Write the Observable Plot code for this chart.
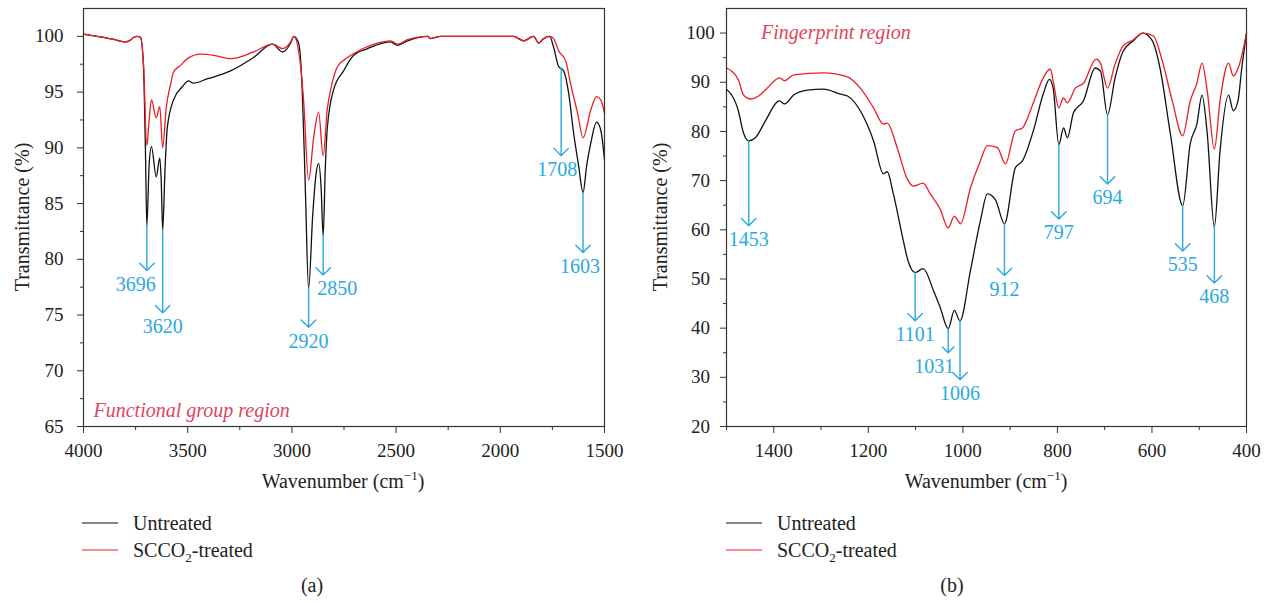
<!DOCTYPE html>
<html>
<head>
<meta charset="utf-8">
<script src="https://cdn.jsdelivr.net/npm/d3@7"></script>
<script src="https://cdn.jsdelivr.net/npm/@observablehq/plot@0.6"></script>
<style>
  html, body { margin: 0; padding: 0; background: #fff; }
  #page { position: relative; width: 1269px; height: 603px; overflow: hidden; background: #fff;
          font-family: "Liberation Serif", serif; color: #222; }
  .panel { position: absolute; top: 0; }
  .ylab { position: absolute; font-size: 20px; white-space: nowrap; transform: translate(-50%, -50%) rotate(-90deg); }
  .xlab { position: absolute; font-size: 20px; white-space: nowrap; transform: translate(-50%, -50%); }
  .xlab sup { font-size: 13px; vertical-align: 8px; line-height: 0; }
  .leg { position: absolute; font-size: 20px; white-space: nowrap; display: flex; align-items: center; transform: translateY(-50%); }
  .leg .sw { width: 36px; height: 0; border-top: 1.6px solid; margin-right: 15px; }
  .leg sub { font-size: 13px; vertical-align: -5px; line-height: 0; }
  .cap { position: absolute; font-size: 20px; transform: translate(-50%, -50%); }
</style>
</head>
<body>
<div id="page"></div>
<script>
// ---------- Data ----------
// Panel (a): functional group region, [wavenumber, transmittance %]
const aUntreated = [[4000,100.2],[3950,100.05],[3900,99.9],[3860,99.75],[3830,99.6],[3805,99.5],[3780,99.6],[3760,99.9],[3741,100.0],[3726,99.9],[3712,97.2],[3703,90],[3696,83.0],[3685,88.5],[3674,90.1],[3651,87.4],[3634,89.1],[3627,87],[3620,82.6],[3609,88],[3598,91.8],[3568,94.3],[3525,95.5],[3496,96.0],[3474,95.8],[3405,96.2],[3294,96.9],[3184,98.1],[3093,99.3],[3045,98.6],[3006,99.4],[2991,100.0],[2968,99.4],[2950,95],[2935,86],[2920,77.4],[2900,84],[2885,87.5],[2872,88.6],[2860,86.5],[2850,82.1],[2840,88],[2830,91.8],[2800,95.2],[2752,96.9],[2704,98.3],[2637,98.9],[2565,99.4],[2526,99.5],[2493,99.2],[2445,99.6],[2349,100],[2334,99.8],[2286,100],[2100,100],[1936,100],[1888,99.6],[1840,100],[1816,99.4],[1792,99.8],[1763,100],[1744,99.0],[1720,97.3],[1696,96.9],[1672,94.9],[1648,91.3],[1625,88.5],[1603,86.0],[1585,88.5],[1566,90.4],[1538,92.3],[1518,91.6],[1500,88.9]];
const aTreated = [[4000,100.2],[3950,100.05],[3900,99.9],[3860,99.75],[3830,99.6],[3805,99.5],[3780,99.6],[3760,99.9],[3741,100.0],[3726,99.9],[3712,97.5],[3696,90.2],[3685,92.5],[3674,94.3],[3651,92.7],[3634,93.7],[3620,90.0],[3603,93.6],[3582,95.7],[3568,96.8],[3534,97.4],[3501,98.0],[3438,98.4],[3376,98.3],[3294,98.0],[3184,98.6],[3093,99.3],[3045,98.9],[3006,99.5],[2991,100],[2958,97.3],[2944,94.3],[2920,87.1],[2895,91],[2872,93.2],[2850,89.3],[2830,93.5],[2814,95.2],[2781,97.3],[2733,98.1],[2670,98.8],[2565,99.5],[2526,99.6],[2493,99.3],[2445,99.7],[2349,100],[2334,99.8],[2286,100],[2100,100],[1936,100],[1888,99.6],[1840,100],[1816,99.4],[1792,99.8],[1763,100],[1744,99.8],[1720,98.7],[1686,97.8],[1662,95.7],[1629,93.1],[1603,90.9],[1566,93.4],[1538,94.6],[1518,94.3],[1500,93.1]];
const aPeaks    = [3696, 3620, 2920, 2850, 1708, 1603];
const aPeakFrom = [83.0, 82.6, 77.4, 82.1, 97.2, 86.0];
const aPeakTo   = [79.0, 75.2, 73.9, 78.6, 89.3, 80.6];
const aXTicks = [4000, 3500, 3000, 2500, 2000, 1500];
const aXMinor = [3750, 3250, 2750, 2250, 1750];
const aYTicks = [65, 70, 75, 80, 85, 90, 95, 100];
const aYMinor = [67.5, 72.5, 77.5, 82.5, 87.5, 92.5, 97.5];

// Panel (b): fingerprint region
const bUntreated = [[1500,88.6],[1475,84.2],[1464,79.7],[1453,78.1],[1439,78.7],[1418,82.1],[1388,86.2],[1377,85.6],[1358,87.4],[1329,88.4],[1295,88.6],[1259,87.6],[1244,87.2],[1217,84.2],[1189,78.1],[1168,71.4],[1160,71.8],[1147,67.3],[1126,57.8],[1116,53.7],[1101,51.3],[1084,52.1],[1062,47.6],[1048,44.2],[1031,39.9],[1018,43.6],[1006,41.5],[984,51.7],[963,61.8],[948,67.3],[931,66.1],[912,61.2],[889,72.6],[874,74.0],[851,80.1],[830,87.6],[817,90.6],[809,88.8],[797,77.3],[787,80.7],[779,78.7],[766,83.8],[745,86.2],[720,92.9],[709,92.3],[694,83.4],[678,90.9],[661,96.3],[640,98.4],[619,100],[599,98.4],[583,92.9],[561,79.5],[535,64.9],[519,77.5],[505,81.5],[494,87.4],[483,79.5],[468,60.6],[456,76.0],[438,87.4],[428,84.2],[418,86.2],[410,92.9],[400,100]];
const bTreated = [[1500,92.9],[1475,90.5],[1464,87.4],[1449,86.6],[1432,87.2],[1414,88.8],[1388,90.9],[1377,90.3],[1358,91.5],[1295,91.9],[1244,91.1],[1217,88.8],[1189,84.8],[1168,81.5],[1160,81.7],[1139,76.7],[1118,70.4],[1105,68.9],[1084,69.5],[1069,67.3],[1048,64.2],[1031,60.4],[1018,62.8],[1010,61.8],[1005,61.2],[984,68.5],[963,74.0],[948,77.1],[927,76.7],[910,73.4],[889,80.1],[874,80.7],[851,85.8],[830,90.9],[815,92.7],[809,90.3],[797,84.8],[787,86.8],[779,85.8],[762,88.8],[745,89.8],[718,94.7],[709,93.9],[694,88.8],[678,93.7],[661,97.4],[640,98.6],[619,100],[597,99.4],[578,94.3],[557,86.2],[535,79.1],[519,86.2],[505,89.8],[494,93.9],[483,88.2],[468,76.4],[456,86.2],[438,93.9],[428,91.3],[416,93.3],[400,100]];
const bPeaks    = [1453, 1101, 1031, 1006, 912, 797, 694, 535, 468];
const bPeakFrom = [78.1, 51.3, 39.9, 41.5, 61.2, 77.3, 83.4, 64.9, 60.6];
const bPeakTo   = [60.8, 41.5, 35.0, 29.5, 50.7, 62.2, 69.3, 55.7, 49.2];
const bXTicks = [1400, 1200, 1000, 800, 600, 400];
const bXMinor = [1500, 1300, 1100, 900, 700, 500];
const bYTicks = [20, 30, 40, 50, 60, 70, 80, 90, 100];
const bYMinor = [25, 35, 45, 55, 65, 75, 85, 95];

const seriesNames = ["Untreated", "SCCO\u2082-treated"];

// ---------- Styles ----------
const BLACK = "#111", RED = "#ee1c25", CYAN = "#2aa9df", FRAME = "#333", REGION = "#e0465c";
const labelDx = {3696: -11, 2850: 14, 1708: -4, 1603: -3, 1031: -14};

function panel({width, ml, mr, xDomain, yDomain, xTicks, xMinor, yTicks, yMinor, untreated, treated,
                peaks, from, to, region, regionPos, yAnchor, yPad}) {
  const ann = peaks.map((w, i) => ({w, from: from[i], to: to[i]}));
  const labelMarks = ann.map(d =>
    Plot.text([d], {x: "w", y: "to", text: r => String(r.w), dy: 14, dx: labelDx[d.w] || 0,
                    fill: CYAN, fontSize: 20}));
  return Plot.plot({
    width, height: 500, marginLeft: ml, marginRight: mr, marginTop: 8, marginBottom: 74,
    x: {domain: xDomain},
    y: {domain: yDomain},
    style: {fontFamily: "Liberation Serif", fontSize: "19px", color: "#222", background: "white", overflow: "visible"},
    marks: [
      Plot.axisY({ticks: yTicks, tickSize: 6, tickPadding: yPad, textAnchor: yAnchor, label: null,
                  stroke: FRAME, fill: "#222", fontSize: 19, tickFormat: d => String(d)}),
      Plot.axisY({ticks: yMinor, tickSize: 3, label: null, stroke: FRAME, tickFormat: () => ""}),
      Plot.axisX({ticks: xTicks, tickSize: 7, tickPadding: 10, label: null,
                  stroke: FRAME, fill: "#222", fontSize: 19, tickFormat: d => String(d)}),
      Plot.axisX({ticks: xMinor, tickSize: 4, label: null, stroke: FRAME, tickFormat: () => ""}),
      Plot.line(untreated, {x: d => d[0], y: d => d[1], stroke: BLACK, strokeWidth: 1.3, curve: "monotone-x"}),
      Plot.line(treated, {x: d => d[0], y: d => d[1], stroke: RED, strokeWidth: 1.3, curve: "monotone-x"}),
      Plot.arrow(ann, {x1: "w", y1: "from", x2: "w", y2: "to", stroke: CYAN, strokeWidth: 1.4,
                       headAngle: 90, headLength: 11}),
      ...labelMarks,
      Plot.text([region], {x: regionPos[0], y: regionPos[1], text: d => d, textAnchor: "start",
                           fill: REGION, fontStyle: "italic", fontSize: 20}),
      Plot.frame({stroke: FRAME, strokeWidth: 1.2})
    ]
  });
}

const page = document.getElementById("page");

function addPanel(left, plot, ylabCenterX, xlabCenterX, legLeft, capText, capX) {
  const div = document.createElement("div");
  div.className = "panel";
  div.style.left = left + "px";
  div.appendChild(plot);
  page.appendChild(div);

  const yl = document.createElement("div");
  yl.className = "ylab"; yl.textContent = "Transmittance (%)";
  yl.style.left = ylabCenterX + "px"; yl.style.top = "217px";
  page.appendChild(yl);

  const xl = document.createElement("div");
  xl.className = "xlab"; xl.innerHTML = "Wavenumber (cm<sup>\u22121</sup>)";
  xl.style.left = xlabCenterX + "px"; xl.style.top = "481px";
  page.appendChild(xl);

  const colors = [BLACK, RED];
  const labels = ["Untreated", "SCCO<sub>2</sub>-treated"];
  [523, 550].forEach((y, i) => {
    const l = document.createElement("div");
    l.className = "leg";
    l.style.left = legLeft + "px"; l.style.top = y + "px";
    l.innerHTML = `<span class="sw" style="border-color:${colors[i]}"></span><span>${labels[i]}</span>`;
    l.title = seriesNames[i];
    page.appendChild(l);
  });

  const cap = document.createElement("div");
  cap.className = "cap"; cap.textContent = capText;
  cap.style.left = capX + "px"; cap.style.top = "585px";
  page.appendChild(cap);
}

const plotA = panel({
  width: 635, ml: 83, mr: 31, xDomain: [4000, 1500], yDomain: [65, 102.5],
  xTicks: aXTicks, xMinor: aXMinor, yTicks: aYTicks, yMinor: aYMinor,
  untreated: aUntreated, treated: aTreated, peaks: aPeaks, from: aPeakFrom, to: aPeakTo,
  region: "Functional group region", regionPos: [3952, 66.45], yAnchor: "end", yPad: 14
});
const plotB = panel({
  width: 629, ml: 86, mr: 23, xDomain: [1500, 400], yDomain: [20, 105],
  xTicks: bXTicks, xMinor: bXMinor, yTicks: bYTicks, yMinor: bYMinor,
  untreated: bUntreated, treated: bTreated, peaks: bPeaks, from: bPeakFrom, to: bPeakTo,
  region: "Fingerprint region", regionPos: [1427, 100], yAnchor: "middle", yPad: 20
});

addPanel(0, plotA, 22, 343, 82, "(a)", 312);
addPanel(640, plotB, 660, 986, 726, "(b)", 952);
</script>
</body>
</html>
